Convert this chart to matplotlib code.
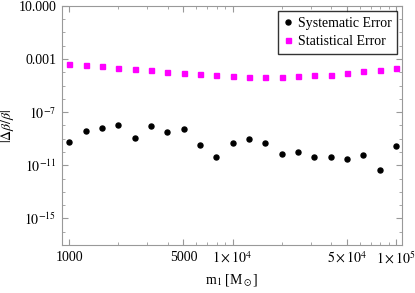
import numpy as np
import matplotlib.pyplot as plt
from matplotlib.ticker import FixedLocator, LogLocator, NullFormatter

plt.rcParams['font.family'] = 'Liberation Serif'
plt.rcParams['mathtext.fontset'] = 'stix'

# primary mass values (solar masses)
m1 = [1000, 1259, 1585, 1995, 2512, 3162, 3981, 5012, 6310, 7943, 10000,
      12589, 15849, 19953, 25119, 31623, 39811, 50119, 63096, 79433, 100000]

# systematic error |dbeta/beta|
sys_err = [5.8e-10, 3.5e-9, 6.6e-9, 1.0e-8, 1.1e-9, 9.3e-9, 3.1e-9, 5.5e-9,
           3.2e-10, 4.0e-11, 5.1e-10, 9.5e-10, 4.4e-10, 6.5e-11, 1.07e-10,
           4.0e-11, 4.0e-11, 3.0e-11, 5.6e-11, 4.5e-12, 2.6e-10]

# statistical error |dbeta/beta|
stat_err = [3.98e-4, 3.55e-4, 2.82e-4, 2.19e-4, 1.74e-4, 1.38e-4, 1.10e-4,
            8.7e-5, 7.2e-5, 6.2e-5, 4.9e-5, 4.6e-5, 4.4e-5, 4.6e-5, 4.9e-5,
            5.9e-5, 6.5e-5, 8.7e-5, 1.17e-4, 1.48e-4, 2.0e-4]

xticks = [1000, 5000, 1e4, 5e4, 1e5]
xticklabels = ['1000', '5000', r'$1\times10^4$', r'$5\times10^4$', r'$1\times10^5$']
yticks = [10, 1e-3, 1e-7, 1e-11, 1e-15]
yticklabels = ['10.000', '0.001', r'$10^{-7}$', r'$10^{-11}$', r'$10^{-15}$']

fig = plt.figure(figsize=(4.15, 2.93), dpi=100)
ax = fig.add_axes([0.149, 0.164, 0.82, 0.816])

ax.plot(m1, sys_err, 'o', color='black', markersize=3.6, label='Systematic Error')
ax.plot(m1, stat_err, 's', color='#ff00ff', markersize=3.6, label='Statistical Error')

ax.set_xscale('log')
ax.set_yscale('log')
ax.set_xlim(900, 1.09e5)
ax.set_ylim(1e-17, 10)

ax.xaxis.set_major_locator(FixedLocator(xticks))
ax.set_xticklabels(xticklabels)
ax.xaxis.set_minor_locator(LogLocator(base=10, subs=np.arange(1, 10)))
ax.xaxis.set_minor_formatter(NullFormatter())
ax.yaxis.set_major_locator(FixedLocator(yticks))
ax.set_yticklabels(yticklabels)
ax.yaxis.set_minor_locator(FixedLocator([10.0**e for e in range(-17, 2)]))
ax.yaxis.set_minor_formatter(NullFormatter())

for s in ax.spines.values():
    s.set_color('#999999')
ax.tick_params(which='both', direction='in', top=True, right=True,
               color='#999999', labelsize=10, pad=4)
ax.tick_params(which='major', length=4)
ax.tick_params(which='minor', length=2.5)

ax.set_xlabel(r'm$_1$ [M$_\odot$]', fontsize=10)
ax.set_ylabel(r'$|\Delta\beta/\beta|$', fontsize=10, labelpad=2)

leg = ax.legend(loc='upper right', fontsize=10, frameon=True, fancybox=False,
                edgecolor='black', handlelength=0.6, handletextpad=0.4,
                borderpad=0.42, labelspacing=0.4, borderaxespad=0.35)
leg.get_frame().set_linewidth(1.0)

plt.savefig('out.png', dpi=100)
